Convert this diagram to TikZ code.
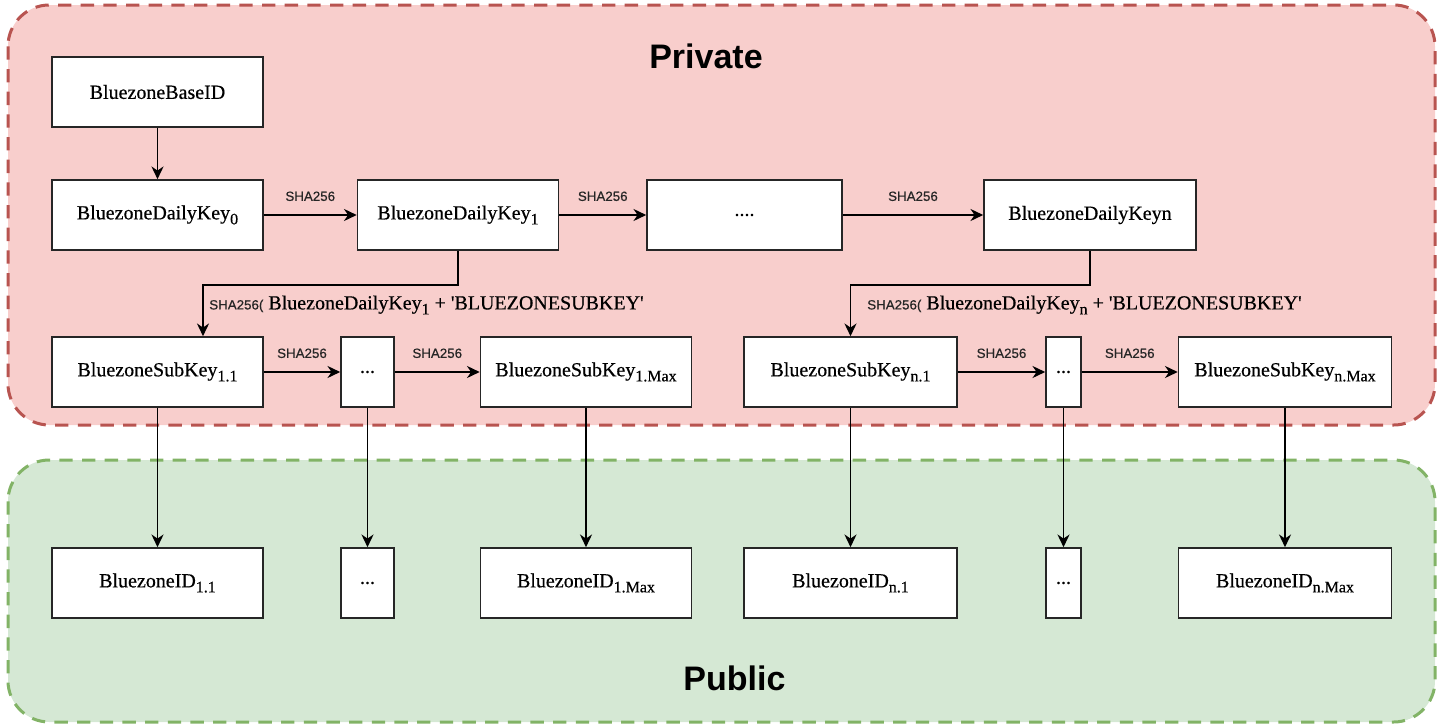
\documentclass[tikz,border=0pt]{standalone}
\usepackage{fontspec}
\setmainfont{Liberation Serif}
\setsansfont{Liberation Sans}
\newfontfamily\keyfont{Liberation Serif}[FakeBold=0.5]
\newfontfamily\hashfont{Liberation Sans}[FakeBold=0.6]
\usepackage{tikz}
\usetikzlibrary{arrows.meta}
\usepackage{xcolor}
\definecolor{privfill}{HTML}{F8CECC}
\definecolor{privline}{HTML}{B85450}
\definecolor{pubfill}{HTML}{D5E8D4}
\definecolor{publine}{HTML}{82B366}
\newcommand{\lowsub}[1]{\raisebox{-3.75pt}{\fontsize{12}{12}\selectfont #1}}

\tikzset{
  keybox/.style={draw=black!85, fill=white, line width=1.2pt, minimum height=52.5pt,
    inner sep=0pt, font=\keyfont\fontsize{15}{18}\selectfont},
  hashlabel/.style={font=\hashfont\fontsize{10}{12}\selectfont, text=black!85},
  zone/.style={line width=2.25pt, dash pattern=on 10pt off 7pt, rounded corners=31pt},
  link/.style={line width=1.3pt, ->},
}

\begin{document}
\begin{tikzpicture}[x=0.75pt, y=-0.75pt, >={Stealth[length=9.5pt,width=9pt,inset=3pt]}]
        \useasboundingbox (0,0) rectangle (1439,725);

        % Draw the two zones
        \draw[zone, fill=privfill, draw=privline] (8,5) rectangle (1435,425);
        \draw[zone, fill=pubfill, draw=publine] (8,460) rectangle (1435,722);
        \node[font=\sffamily\bfseries\fontsize{25.5}{30}\selectfont] (private) at (706,56) {Private};
        \node[font=\sffamily\bfseries\fontsize{25.5}{30}\selectfont] (public) at (734.5,678) {Public};

        % Draw the daily keys
        \node[keybox, minimum width=158.25pt] (base)   at (157.5,92)  {BluezoneBaseID};
        \node[keybox, minimum width=158.25pt] (daily0) at (157.5,215) {BluezoneDailyKey\lowsub{0}};
        \node[keybox, minimum width=150.75pt] (daily1) at (458,215)   {BluezoneDailyKey\lowsub{1}};
        \node[keybox, minimum width=146.25pt] (dailyd) at (744.5,215) {....};
        \node[keybox, minimum width=159pt]    (dailyn) at (1090,215)  {BluezoneDailyKeyn};

        % Draw the sub keys
        \node[keybox, minimum width=158.25pt] (sub11)   at (157.5,372) {BluezoneSubKey\lowsub{1.1}};
        \node[keybox, minimum width=39.75pt]  (subd1)   at (367.5,372) {...};
        \node[keybox, minimum width=158.25pt] (sub1max) at (586,372)   {BluezoneSubKey\lowsub{1.Max}};
        \node[keybox, minimum width=159.75pt] (subn1)   at (850.5,372) {BluezoneSubKey\lowsub{n.1}};
        \node[keybox, minimum width=26.25pt]  (subdn)   at (1063.5,372) {...};
        \node[keybox, minimum width=159.75pt] (subnmax) at (1285,372)  {BluezoneSubKey\lowsub{n.Max}};

        % Draw the public IDs
        \node[keybox, minimum width=158.25pt] (id11)   at (157.5,583) {BluezoneID\lowsub{1.1}};
        \node[keybox, minimum width=39.75pt]  (idd1)   at (367.5,583) {...};
        \node[keybox, minimum width=158.25pt] (id1max) at (586,583)   {BluezoneID\lowsub{1.Max}};
        \node[keybox, minimum width=159.75pt] (idn1)   at (850.5,583) {BluezoneID\lowsub{n.1}};
        \node[keybox, minimum width=26.25pt]  (iddn)   at (1063.5,583) {...};
        \node[keybox, minimum width=159.75pt] (idnmax) at (1285,583)  {BluezoneID\lowsub{n.Max}};

        % Chain of daily keys
        \draw[link] (base) -- (daily0);
        \draw[link] (daily0) -- node[hashlabel, above=6.5pt] {SHA256} (daily1);
        \draw[link] (daily1) -- node[hashlabel, above=6.5pt] {SHA256} (dailyd);
        \draw[link] (dailyd) -- node[hashlabel, above=6.5pt] {SHA256} (dailyn);

        % Daily key to first sub key
        \coordinate (bend1) at (203,285);
        \draw[link] (daily1.south) |- (bend1) -- (bend1 |- sub11.north);
        \node[anchor=west, inner sep=0pt, font=\keyfont\fontsize{15}{18}\selectfont] (lab1) at (209,305)
            {{\hashfont\fontsize{10}{12}\selectfont\color{black!85}SHA256(} BluezoneDailyKey\lowsub{1} + \textquotesingle BLUEZONESUBKEY\textquotesingle};
        \coordinate (bendn) at (850.5,285);
        \draw[link] (dailyn.south) |- (bendn) -- (subn1.north);
        \node[anchor=west, inner sep=0pt, font=\keyfont\fontsize{15}{18}\selectfont] (labn) at (867,305)
            {{\hashfont\fontsize{10}{12}\selectfont\color{black!85}SHA256(} BluezoneDailyKey\lowsub{n} + \textquotesingle BLUEZONESUBKEY\textquotesingle};

        % Chains of sub keys
        \draw[link] (sub11) -- node[hashlabel, above=6.5pt] {SHA256} (subd1);
        \draw[link] (subd1) -- node[hashlabel, above=6.5pt] {SHA256} (sub1max);
        \draw[link] (subn1) -- node[hashlabel, above=6.5pt] {SHA256} (subdn);
        \draw[link] (subdn) -- node[hashlabel, above=6.5pt] {SHA256} (subnmax);

        % Sub keys down to the IDs
        \draw[link] (sub11) -- (id11);
        \draw[link] (subd1) -- (idd1);
        \draw[link] (sub1max) -- (id1max);
        \draw[link] (subn1) -- (idn1);
        \draw[link] (subdn) -- (iddn);
        \draw[link] (subnmax) -- (idnmax);
\end{tikzpicture}
\end{document}
